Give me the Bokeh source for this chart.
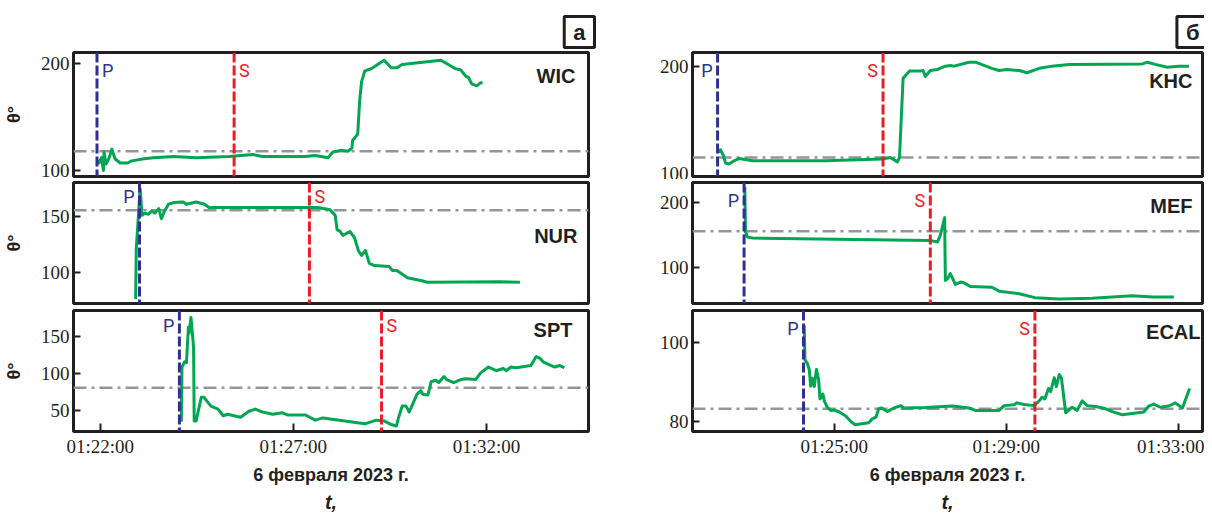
import pandas as pd
from bokeh.plotting import figure
from bokeh.layouts import row, column
from bokeh.models import (Range1d, Span, Label, Title, FixedTicker,
                          DatetimeTickFormatter, ColumnDataSource)
from bokeh.embed import file_html
from bokeh.resources import INLINE

# ---------------- data ----------------
DATE = "2023-02-06"
STATIONS = ["WIC", "NUR", "SPT", "KHC", "MEF", "ECAL"]
P_ARRIVAL = ["01:21:55", "01:23:01", "01:24:03", "01:22:17", "01:22:54", "01:24:17"]
S_ARRIVAL = ["01:25:28", "01:27:25", "01:29:17", "01:26:08", "01:27:14", "01:29:40"]
THRESHOLD = [118, 155.5, 81, 117, 155, 83.3]
Y_TICKS = [[100, 200], [100, 150], [50, 100, 150], [100, 200], [100, 200], [80, 100]]
X_TICKS_A = ["01:22:00", "01:27:00", "01:32:00"]
X_TICKS_B = ["01:25:00", "01:29:00", "01:33:00"]
DATE_LABEL = "6 февраля 2023 г."
T_LABEL = "t,"
Y_LABEL = "θ°"
PANEL_LETTERS = ["а", "б"]

WIC_TIME = ["01:21:55", "01:21:58", "01:22:02", "01:22:05", "01:22:06", "01:22:09", "01:22:14", "01:22:18",
            "01:22:23", "01:22:31", "01:22:42", "01:22:49", "01:23:08", "01:23:23", "01:23:54", "01:24:29",
            "01:25:20", "01:25:57", "01:26:12", "01:27:03", "01:27:18", "01:27:34", "01:27:54", "01:28:01",
            "01:28:15", "01:28:25", "01:28:31", "01:28:32", "01:28:40", "01:28:43", "01:28:46", "01:28:51",
            "01:29:01", "01:29:11", "01:29:21", "01:29:32", "01:29:41", "01:29:49", "01:30:49", "01:30:58",
            "01:31:12", "01:31:20", "01:31:28", "01:31:32", "01:31:37", "01:31:45", "01:31:51", "01:31:54"]
WIC_THETA = [109, 107, 112, 100, 117, 106, 112, 120, 111, 107, 107, 109, 111, 112, 113, 112,
             113, 115, 113, 113, 113, 114, 112, 117, 119, 118, 121, 128, 134, 165, 183, 193,
             195, 199, 203, 196, 196, 199, 203, 200, 195, 194, 188, 187, 181, 179, 182, 182]

NUR_TIME = ["01:22:55", "01:22:56", "01:23:02", "01:23:05", "01:23:09", "01:23:15", "01:23:20", "01:23:25",
            "01:23:31", "01:23:35", "01:23:40", "01:23:46", "01:23:54", "01:24:09", "01:24:14", "01:24:29",
            "01:24:42", "01:24:49", "01:25:20", "01:27:18", "01:27:38", "01:27:57", "01:28:05", "01:28:08",
            "01:28:12", "01:28:17", "01:28:28", "01:28:35", "01:28:41", "01:28:46", "01:28:52", "01:28:58",
            "01:29:06", "01:29:29", "01:29:34", "01:29:41", "01:29:57", "01:30:18", "01:30:28", "01:32:21",
            "01:32:52"]
NUR_THETA = [76, 121, 175, 151, 153, 152, 155, 153, 157, 148, 155, 161, 162.5, 163, 161, 163,
             161, 158, 158, 158, 158, 156, 151, 138, 137, 133, 136.5, 131, 119.5, 115, 119.5, 108,
             106, 105, 101.5, 101.5, 95, 92.5, 91, 91.5, 91]

SPT_TIME = ["01:24:06", "01:24:07", "01:24:11", "01:24:14", "01:24:17", "01:24:18", "01:24:21", "01:24:25",
            "01:24:26", "01:24:29", "01:24:37", "01:24:41", "01:24:52", "01:25:03", "01:25:11", "01:25:18",
            "01:25:38", "01:25:51", "01:26:01", "01:26:12", "01:26:28", "01:26:43", "01:26:51", "01:27:18",
            "01:27:21", "01:27:34", "01:27:46", "01:28:51", "01:29:09", "01:29:21", "01:29:32", "01:29:40",
            "01:29:43", "01:29:49", "01:29:55", "01:30:00", "01:30:04", "01:30:12", "01:30:18", "01:30:21",
            "01:30:29", "01:30:34", "01:30:41", "01:30:46", "01:30:54", "01:30:58", "01:31:09", "01:31:20",
            "01:31:28", "01:31:43", "01:31:51", "01:32:03", "01:32:15", "01:32:26", "01:32:31", "01:32:38",
            "01:32:46", "01:33:09", "01:33:17", "01:33:23", "01:33:28", "01:33:38", "01:33:46", "01:33:54",
            "01:34:01"]
SPT_THETA = [35, 109, 116, 115, 163, 155, 176, 136, 36, 36, 68, 68, 56, 52, 43, 45,
             41, 49, 52, 48, 45, 47, 44, 44, 43, 37, 40, 32, 37, 36, 31, 29,
             39, 56, 56, 48, 56, 72, 77, 72, 71, 89, 91, 88, 96, 92, 88, 92,
             93, 92, 101, 109, 104, 107, 104, 109, 108, 111, 123, 121, 116, 112, 109, 111,
             108]

KHC_TIME = ["01:22:20", "01:22:21", "01:22:25", "01:22:28", "01:22:33", "01:22:40", "01:22:47", "01:23:06",
            "01:24:47", "01:26:07", "01:26:18", "01:26:28", "01:26:31", "01:26:36", "01:26:45", "01:27:00",
            "01:27:04", "01:27:07", "01:27:14", "01:27:24", "01:27:35", "01:27:42", "01:27:47", "01:28:08",
            "01:28:17", "01:28:40", "01:28:50", "01:29:01", "01:29:18", "01:29:29", "01:29:46", "01:30:04",
            "01:30:28", "01:32:10", "01:32:17", "01:32:28", "01:32:45", "01:33:01", "01:33:15"]
KHC_THETA = [121, 124, 119, 112, 111, 114, 116, 114, 114, 115.5, 117, 113, 117, 189, 195.5, 195.5,
             196, 190.6, 196, 197, 200, 200.6, 200, 203.6, 203.6, 198, 196, 197, 196, 194, 198, 200,
             201.6, 202, 203.6, 201.6, 199, 200, 200]

MEF_TIME = ["01:22:55", "01:22:56", "01:22:59", "01:23:06", "01:27:13", "01:27:24", "01:27:28", "01:27:34",
            "01:27:35", "01:27:38", "01:27:42", "01:27:49", "01:27:56", "01:28:01", "01:28:10", "01:28:40",
            "01:28:50", "01:29:18", "01:29:40", "01:30:14", "01:31:00", "01:31:56", "01:32:24", "01:32:54"]
MEF_THETA = [223, 154, 146, 144.6, 141, 138.5, 149, 176, 79.5, 82, 90, 73.4, 77, 76, 70, 69,
             63, 59, 53, 51, 52, 56, 54, 54]

ECAL_TIME = ["01:24:18", "01:24:19", "01:24:22", "01:24:25", "01:24:27", "01:24:29", "01:24:32", "01:24:35",
             "01:24:38", "01:24:40", "01:24:44", "01:24:46", "01:24:50", "01:24:55", "01:25:00", "01:25:07",
             "01:25:16", "01:25:23", "01:25:29", "01:25:48", "01:25:53", "01:25:58", "01:26:02", "01:26:06",
             "01:26:14", "01:26:23", "01:26:33", "01:26:37", "01:27:07", "01:27:45", "01:28:08", "01:28:17",
             "01:28:50", "01:28:57", "01:29:11", "01:29:15", "01:29:25", "01:29:39", "01:29:46", "01:29:50",
             "01:29:54", "01:29:59", "01:30:02", "01:30:07", "01:30:10", "01:30:14", "01:30:17", "01:30:23",
             "01:30:32", "01:30:39", "01:30:46", "01:30:53", "01:31:05", "01:31:19", "01:31:28", "01:31:42",
             "01:32:12", "01:32:19", "01:32:26", "01:32:35", "01:32:47", "01:32:56", "01:33:06", "01:33:16"]
ECAL_THETA = [104.3, 95.6, 94.8, 93.2, 89, 91, 88.9, 93.2, 90.7, 85.8, 87, 85.3, 83.7, 82.9, 83, 82.5,
              81.5, 80.1, 79.3, 79.8, 80.8, 81.2, 83.3, 83.5, 82.6, 83.5, 84.1, 83.5, 83.6, 84, 83.5, 82.9,
              82.9, 84.1, 84.3, 84.8, 84.4, 84.1, 85.3, 86.2, 85.8, 88.4, 87.6, 91.1, 88.9, 91.9, 91.1, 82.3,
              83.7, 82.9, 85.3, 84.1, 83.9, 83.3, 82.6, 81.8, 82.5, 84, 84.5, 83.7, 84, 84.8, 83.5, 88.4]

SERIES_TIME = [WIC_TIME, NUR_TIME, SPT_TIME, KHC_TIME, MEF_TIME, ECAL_TIME]
SERIES_THETA = [WIC_THETA, NUR_THETA, SPT_THETA, KHC_THETA, MEF_THETA, ECAL_THETA]

# ---------------- styling / layout ----------------
GREEN = "#00a651"
BLUE = "#2e3192"
RED = "#ed1c24"
GRAY = "#939598"
INK = "#231f20"
NARROW = "Liberation Sans Narrow"
SANS = "Liberation Sans"
PS_FONT = "Roboto"


def ms(t):
    return pd.Timestamp(f"{DATE} {t}").value / 1e6


def dt(ts):
    return pd.to_datetime([f"{DATE} {t}" for t in ts])


X_RANGE_A = Range1d(ms("01:21:18.5"), ms("01:34:38.5"))
X_RANGE_B = Range1d(ms("01:21:42"), ms("01:33:34"))

Y_RANGES = [(94.4, 210.2), (71.9, 180.5), (21.6, 185.6), (99.7, 212.4), (44, 230), (77.6, 108)]
P_SIDE = ["right", "left", "left", "left", "left", "left"]
S_SIDE = ["right", "right", "right", "left", "left", "left"]
PS_DY = [7, 3, 4, 7, 7, 7]
NAME_DX = [13, 11, 16, 10, 10, 2]
NAME_DY = [23, 53, 19, 28, 23, 21]

HEIGHTS = [179, 127, 207]
B_TOP = [52, 3, 4]
B_BOT = [3, 3, 80]
WIDTHS = [622, 582]
B_LEFT = [68, 70]
B_RIGHT = [34, 2]


def make_panel(i):
    col = 0 if i < 3 else 1
    r = i % 3
    bottom = r == 2
    xr = X_RANGE_A if col == 0 else X_RANGE_B
    y0, y1 = Y_RANGES[i]
    p = figure(width=WIDTHS[col], height=HEIGHTS[r], x_range=xr, y_range=Range1d(y0, y1),
               x_axis_type="datetime", x_axis_location="below" if bottom else None,
               output_backend="svg", toolbar_location=None,
               min_border_left=B_LEFT[col], min_border_right=B_RIGHT[col],
               min_border_top=B_TOP[r], min_border_bottom=B_BOT[r])
    p.grid.visible = False
    p.outline_line_color = INK
    p.outline_line_width = 3
    p.background_fill_color = "white"
    p.border_fill_color = "white"

    ya = p.yaxis[0]
    ya.ticker = FixedTicker(ticks=Y_TICKS[i])
    ya.axis_line_color = None
    ya.major_tick_in = 7
    ya.major_tick_out = 0
    ya.major_tick_line_width = 2
    ya.major_tick_line_color = INK
    ya.minor_tick_line_color = None
    ya.major_label_text_font = NARROW
    ya.major_label_text_font_size = "19px"
    ya.major_label_text_color = INK
    ya.major_label_standoff = 4
    if col == 0:
        ya.axis_label = Y_LABEL
        ya.axis_label_text_font = SANS
        ya.axis_label_text_font_style = "bold"
        ya.axis_label_text_font_size = "18px"
        ya.axis_label_text_color = INK
        ya.axis_label_standoff = 14

    if bottom:
        xa = p.xaxis[0]
        xt = X_TICKS_A if col == 0 else X_TICKS_B
        xa.ticker = FixedTicker(ticks=[ms(t) for t in xt])
        fmt = "%H:%M:%S"
        xa.formatter = DatetimeTickFormatter(seconds=fmt, minsec=fmt, minutes=fmt, hourmin=fmt, hours=fmt)
        xa.axis_line_color = None
        xa.major_tick_in = 8
        xa.major_tick_out = 0
        xa.major_tick_line_width = 2
        xa.major_tick_line_color = INK
        xa.minor_tick_line_color = None
        xa.major_label_text_font = NARROW
        xa.major_label_text_font_size = "19px"
        xa.major_label_text_color = INK
        xa.major_label_standoff = 4
        off = -34 if col == 0 else 5
        p.add_layout(Title(text=DATE_LABEL, align="center", offset=off, text_font=SANS,
                           text_font_style="bold", text_font_size="18px", text_color=INK,
                           standoff=6), "below")
        p.add_layout(Title(text=T_LABEL, align="center", offset=off, text_font=SANS,
                           text_font_style="bold italic", text_font_size="20px", text_color=INK,
                           standoff=2), "below")

    if r == 0:
        p.title = Title(text=PANEL_LETTERS[col], align="right", offset=-6, text_font=SANS,
                        text_font_style="bold", text_font_size="22px", text_color=INK,
                        border_line_color=INK, border_line_width=3, background_fill_color="white",
                        padding=(9, 3), standoff=10)

    # threshold
    p.add_layout(Span(location=THRESHOLD[i], dimension="width", line_color=GRAY, line_width=2.5,
                      line_dash="13 5 3 5", level="underlay"))

    src = ColumnDataSource(data=dict(t=dt(SERIES_TIME[i]), v=SERIES_THETA[i]))
    p.line("t", "v", source=src, line_color=GREEN, line_width=3, line_join="round")

    # P and S arrivals
    for txt, t, side, colr in (("P", P_ARRIVAL[i], P_SIDE[i], BLUE), ("S", S_ARRIVAL[i], S_SIDE[i], RED)):
        p.add_layout(Span(location=ms(t), dimension="height", line_color=colr, line_width=3,
                          line_dash="10 3"))
        p.add_layout(Label(x=ms(t), y=y1, text=txt, text_color=colr, text_font=PS_FONT,
                           text_font_size="18px", text_baseline="top",
                           text_align="left" if side == "right" else "right",
                           x_offset=5 if side == "right" else -5, y_offset=-PS_DY[i]))

    # station name
    p.add_layout(Label(x=xr.end, y=y1, text=STATIONS[i], text_color=INK, text_font=SANS,
                       text_font_style="bold", text_font_size="20px", text_align="right",
                       text_baseline="middle", x_offset=-NAME_DX[i], y_offset=-NAME_DY[i]))
    return p


panels = [make_panel(i) for i in range(6)]
layout = row(column(*panels[:3]), column(*panels[3:]))
open("out.html", "w").write(file_html(layout, INLINE))
